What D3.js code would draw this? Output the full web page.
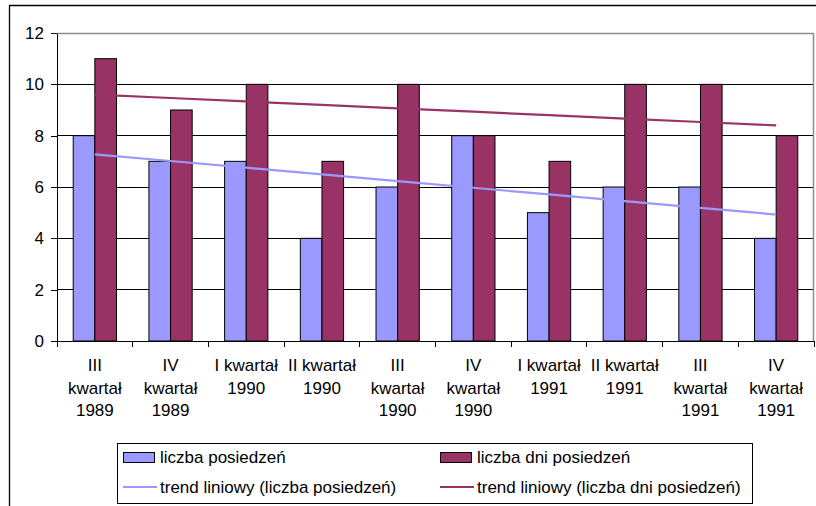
<!DOCTYPE html>
<meta charset="utf-8">
<style>
    html, body { margin: 0; background: #fff; }
    text { font-family: Arial, "Liberation Sans", sans-serif; fill: #000; }
    .grid line { stroke: #000; stroke-width: 1px; shape-rendering: crispEdges; }
    .axis path, .axis line { stroke: #000; shape-rendering: crispEdges; }
    .bar { stroke: #000; stroke-width: 1px; }
</style>
<body>
<script src="https://d3js.org/d3.v7.min.js"></script>
<script>
    // data
    var categories = [
        "III\nkwartał\n1989", "IV\nkwartał\n1989", "I kwartał\n1990", "II kwartał\n1990",
        "III\nkwartał\n1990", "IV\nkwartał\n1990", "I kwartał\n1991", "II kwartał\n1991",
        "III\nkwartał\n1991", "IV\nkwartał\n1991"
    ];
    var posiedzenia = [8, 7, 7, 4, 6, 8, 5, 6, 6, 4];
    var dniPosiedzen = [11, 9, 10, 7, 10, 8, 7, 10, 10, 8];
    var seriesNames = ["liczba posiedzeń", "liczba dni posiedzeń"];
    var trendNames = ["trend liniowy (liczba posiedzeń)", "trend liniowy (liczba dni posiedzeń)"];
    var colors = ["#9999ff", "#993366"];
    var yTicks = [0, 2, 4, 6, 8, 10, 12];

    var width = 816, height = 506;
    var plot = { left: 57, right: 814, top: 33, bottom: 341 };

    var svg = d3.select("body").append("svg")
        .attr("width", width)
        .attr("height", height);

    // chart frame (cropped at right and bottom)
    svg.append("path")
        .attr("d", "M9.5," + height + "V5.5H" + width)
        .attr("fill", "none")
        .attr("stroke", "#000")
        .attr("stroke-width", 1.3);

    var x0 = d3.scaleBand().domain(categories).range([plot.left, plot.right]).padding(0);
    var bw = x0.bandwidth() / 3.5;
    var x1 = d3.scaleBand().domain([0, 1])
        .range([x0.bandwidth() / 2 - bw, x0.bandwidth() / 2 + bw]);
    var y = d3.scaleLinear().domain([0, 12]).range([plot.bottom, plot.top]);

    // gridlines
    svg.append("g").attr("class", "grid")
        .selectAll("line").data(yTicks.slice(1, -1)).enter().append("line")
        .attr("x1", plot.left).attr("x2", plot.right)
        .attr("y1", function (d) { return y(d); })
        .attr("y2", function (d) { return y(d); });

    // plot border top + right (gray)
    svg.append("path")
        .attr("d", "M" + plot.left + "," + (plot.top + 0.5) + "H" + (plot.right - 0.5) + "V" + plot.bottom)
        .attr("fill", "none")
        .attr("stroke", "#8c8c8c")
        .attr("stroke-width", 1.5);

    // bars
    var rows = categories.map(function (c, i) {
        return { cat: c, vals: [posiedzenia[i], dniPosiedzen[i]] };
    });
    var groups = svg.append("g").selectAll("g").data(rows).enter().append("g")
        .attr("transform", function (d) { return "translate(" + x0(d.cat) + ",0)"; });
    groups.selectAll("rect").data(function (d) { return d.vals; }).enter().append("rect")
        .attr("class", "bar")
        .attr("x", function (d, j) { return x1(j); })
        .attr("width", x1.bandwidth())
        .attr("y", function (d) { return y(d); })
        .attr("height", function (d) { return y(0) - y(d); })
        .attr("fill", function (d, j) { return colors[j]; });

    // linear trend lines (least squares over category index)
    function trend(vals) {
        var n = vals.length, mx = (n + 1) / 2, my = d3.mean(vals), sxy = 0, sxx = 0;
        vals.forEach(function (v, i) { sxy += (i + 1 - mx) * (v - my); sxx += (i + 1 - mx) * (i + 1 - mx); });
        var b = sxy / sxx;
        return vals.map(function (v, i) { return my + b * (i + 1 - mx); });
    }
    var line = d3.line()
        .x(function (d, i) { return x0(categories[i]) + x0.bandwidth() / 2; })
        .y(function (d) { return y(d); });
    [posiedzenia, dniPosiedzen].forEach(function (vals, j) {
        svg.append("path")
            .attr("d", line(trend(vals)))
            .attr("fill", "none")
            .attr("stroke", colors[j])
            .attr("stroke-width", 2.2);
    });

    // y axis
    var yAxis = svg.append("g").attr("class", "axis")
        .attr("transform", "translate(" + plot.left + ",0)")
        .call(d3.axisLeft(y).tickValues(yTicks).tickSize(6).tickSizeOuter(0).tickPadding(7));
    yAxis.selectAll("text").style("font-size", "17px");

    // x axis
    var xAxis = svg.append("g").attr("class", "axis")
        .attr("transform", "translate(0," + plot.bottom + ")");
    xAxis.append("line").attr("x1", plot.left).attr("x2", plot.right);
    xAxis.selectAll(".tk").data(d3.range(categories.length + 1)).enter().append("line")
        .attr("x1", function (i) { return plot.left + i * x0.step(); })
        .attr("x2", function (i) { return plot.left + i * x0.step(); })
        .attr("y1", 0).attr("y2", 6);
    xAxis.selectAll(".lbl").data(categories).enter().append("text")
        .attr("text-anchor", "middle")
        .style("font-size", "17px")
        .attr("transform", function (d) { return "translate(" + (x0(d) + x0.bandwidth() / 2) + ",0)"; })
        .selectAll("tspan").data(function (d) { return d.split("\n"); }).enter().append("tspan")
        .attr("x", 0)
        .attr("y", function (d, k) { return 30 + k * 22.5; })
        .text(function (d) { return d; });

    // legend
    var lg = svg.append("g");
    lg.append("rect")
        .attr("x", 117.5).attr("y", 443.5).attr("width", 635).attr("height", 60)
        .attr("fill", "#fff").attr("stroke", "#000").attr("stroke-width", 1);
    var colX = [123, 440];
    seriesNames.forEach(function (name, j) {
        lg.append("rect")
            .attr("x", colX[j] + 0.5).attr("y", 452.5).attr("width", 31).attr("height", 10)
            .attr("fill", colors[j]).attr("stroke", "#000");
        lg.append("text").attr("x", colX[j] + 37).attr("y", 463)
            .style("font-size", "17px").text(name);
    });
    trendNames.forEach(function (name, j) {
        lg.append("line")
            .attr("x1", colX[j]).attr("x2", colX[j] + 34)
            .attr("y1", 487).attr("y2", 487)
            .attr("stroke", colors[j]).attr("stroke-width", 2.2);
        lg.append("text").attr("x", colX[j] + 37).attr("y", 493)
            .style("font-size", "17px").text(name);
    });
</script>
</body>
